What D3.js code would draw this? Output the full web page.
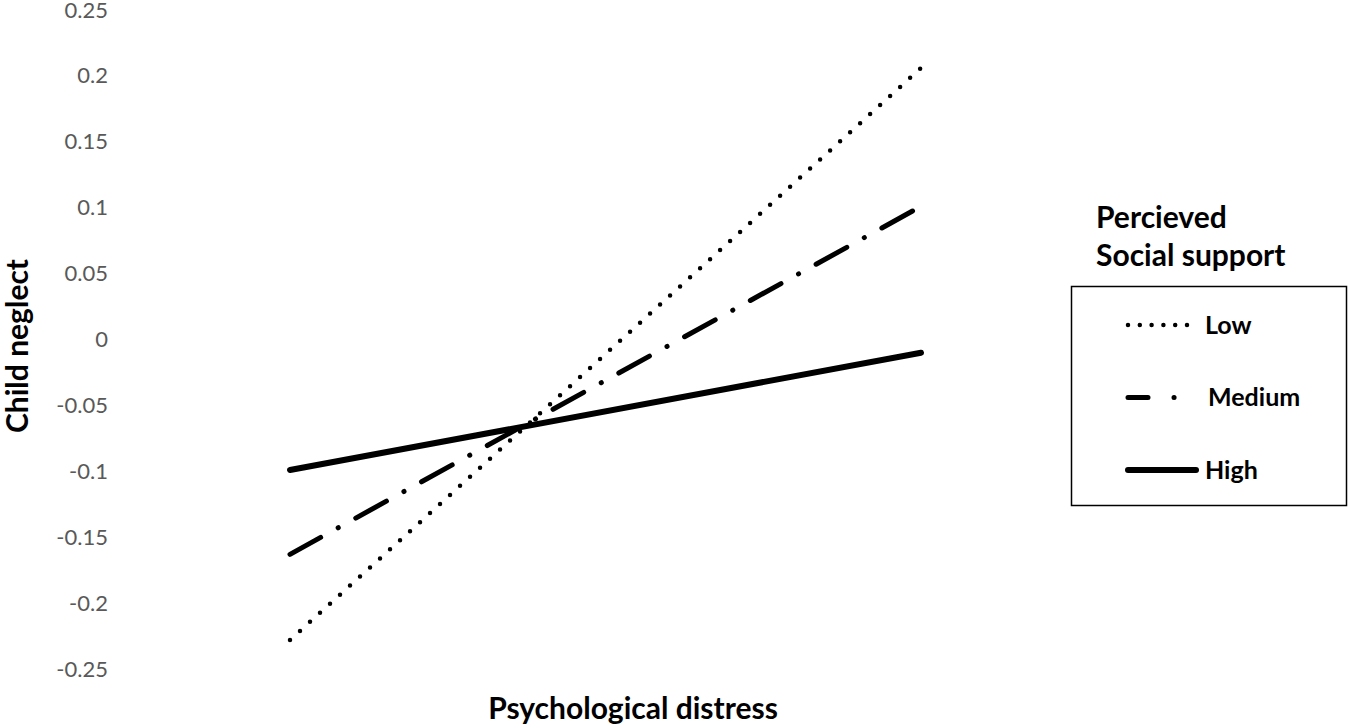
<!DOCTYPE html>
<html>
<head>
<meta charset="utf-8">
<script src="https://cdn.jsdelivr.net/npm/d3@7"></script>
<style>
  body { margin: 0; background: #fff; }
  .tick text { font-family: Lato, "Open Sans", sans-serif; fill: #595959; }
  .title { font-family: Lato, "Open Sans", sans-serif; font-weight: bold; fill: #000; }
</style>
</head>
<body>
<div id="chart"></div>
<script>
// values
var xLevels = ["Low", "High"];              // psychological distress (-1 SD / +1 SD)
var groups = ["Low", "Medium", "High"];     // perceived social support
var lowValues = [-0.228, 0.206];
var mediumValues = [-0.163, 0.101];
var highValues = [-0.099, -0.010];
var yTicks = [0.25, 0.2, 0.15, 0.1, 0.05, 0, -0.05, -0.1, -0.15, -0.2, -0.25];

var width = 1350, height = 728;

var series = [
    { name: groups[0], values: lowValues, dash: "0,13.5", w: 4.5, legendDash: "0,11.8" },
    { name: groups[1], values: mediumValues, dash: "35,20,0.1,20", w: 5, legendDash: "20,26,0.1,40" },
    { name: groups[2], values: highValues, dash: null, w: 6, legendDash: null }
];

var svg = d3.select("#chart").append("svg")
    .attr("width", width)
    .attr("height", height);

var x = d3.scalePoint()
    .domain(xLevels)
    .range([290, 921]);

var y = d3.scaleLinear()
    .domain([-0.25, 0.25])
    .range([669, 10]);

// y axis: labels only, no line, no tick marks
var yAxis = svg.append("g")
    .attr("transform", "translate(108,0)")
    .call(d3.axisLeft(y).tickValues(yTicks).tickSize(0).tickPadding(0)
        .tickFormat(function (d) { return String(+d.toFixed(2)); }));
yAxis.select(".domain").remove();
yAxis.selectAll(".tick text")
    .style("font-size", "22px");

var line = d3.line()
    .x(function (d, i) { return x(xLevels[i]); })
    .y(function (d) { return y(d); });

svg.selectAll(".series")
    .data(series)
  .enter().append("path")
    .attr("class", "series")
    .attr("d", function (d) { return line(d.values); })
    .attr("fill", "none")
    .attr("stroke", "#000")
    .attr("stroke-width", function (d) { return d.w; })
    .attr("stroke-linecap", "round")
    .attr("stroke-dasharray", function (d) { return d.dash; });

// axis titles
svg.append("text")
    .attr("class", "title")
    .attr("x", 633)
    .attr("y", 719)
    .attr("text-anchor", "middle")
    .style("font-size", "30px")
    .text("Psychological distress");

svg.append("text")
    .attr("class", "title")
    .attr("transform", "translate(28,346) rotate(-90)")
    .attr("text-anchor", "middle")
    .style("font-size", "30px")
    .text("Child neglect");

// legend
svg.append("text")
    .attr("class", "title")
    .attr("x", 1096)
    .attr("y", 228)
    .style("font-size", "30px")
    .text("Percieved");
svg.append("text")
    .attr("class", "title")
    .attr("x", 1096)
    .attr("y", 266)
    .style("font-size", "30px")
    .text("Social support");

svg.append("rect")
    .attr("x", 1071.5)
    .attr("y", 286.5)
    .attr("width", 275)
    .attr("height", 219)
    .attr("fill", "none")
    .attr("stroke", "#000")
    .attr("stroke-width", 1.5);

var legendY = d3.scalePoint()
    .domain(groups)
    .range([325, 470]);

var item = svg.selectAll(".legend-item")
    .data(series)
  .enter().append("g")
    .attr("class", "legend-item")
    .attr("transform", function (d) { return "translate(0," + legendY(d.name) + ")"; });

item.append("line")
    .attr("x1", 1128).attr("x2", 1196)
    .attr("stroke", "#000")
    .attr("stroke-width", function (d) { return d.w; })
    .attr("stroke-linecap", "round")
    .attr("stroke-dasharray", function (d) { return d.legendDash; });

item.append("text")
    .attr("class", "title")
    .attr("x", function (d) { return d.name === "Medium" ? 1208 : 1205; })
    .attr("dy", "0.35em")
    .style("font-size", "25px")
    .text(function (d) { return d.name; });
</script>
</body>
</html>
